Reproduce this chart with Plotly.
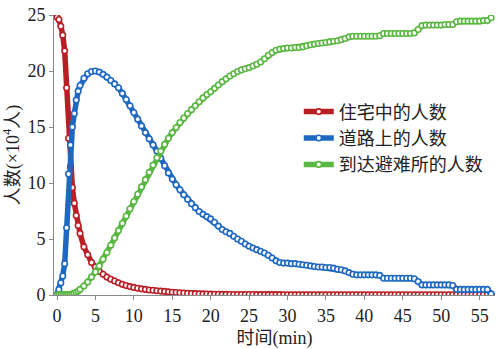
import plotly.graph_objects as go

time_min = [0, 0.25, 0.5, 0.75, 1.0, 1.25, 1.5, 1.75, 2.0, 2.25, 2.5, 2.75, 3.0,
            3.5, 4.0, 4.5, 5.0, 5.5, 6.0, 6.5, 7.0, 7.5, 8.0, 8.5, 9.0, 9.5,
            10.0, 10.5, 11.0, 11.5, 12.0, 12.5, 13.0, 13.5, 14.0, 14.5, 15.0, 15.5,
            16.0, 16.5, 17.0, 17.5, 18.0, 18.5, 19.0, 19.5, 20.0, 20.5, 21.0, 21.5,
            22.0, 22.5, 23.0, 23.5, 24.0, 24.5, 25.0, 25.5, 26.0, 26.5, 27.0, 27.5,
            28.0, 28.5, 29.0, 29.5, 30.0, 30.5, 31.0, 31.5, 32.0, 32.5, 33.0, 33.5,
            34.0, 34.5, 35.0, 35.5, 36.0, 36.5, 37.0, 37.5, 38.0, 38.5, 39.0, 39.5,
            40.0, 40.5, 41.0, 41.5, 42.0, 42.5, 43.0, 43.5, 44.0, 44.5, 45.0, 45.5,
            46.0, 46.5, 47.0, 47.5, 48.0, 48.5, 49.0, 49.5, 50.0, 50.5, 51.0, 51.5,
            52.0, 52.5, 53.0, 53.5, 54.0, 54.5, 55.0, 55.5, 56.0, 56.5]

in_homes = [24.8, 24.6, 24.0, 23.2, 21.8, 18.5, 14.0, 11.5, 9.6, 8.2, 7.1, 6.2, 5.5,
            4.3, 3.6, 2.9, 2.5, 2.1, 1.85, 1.6, 1.4, 1.25, 1.1, 0.95, 0.85, 0.75,
            0.68, 0.6, 0.55, 0.5, 0.45, 0.42, 0.38, 0.35, 0.32, 0.28, 0.25, 0.22,
            0.2, 0.18, 0.16, 0.14, 0.12, 0.11, 0.1, 0.09, 0.08, 0.07, 0.07, 0.06,
            0.06, 0.05, 0.05, 0.05, 0.04, 0.04, 0.04, 0.04, 0.03, 0.03, 0.03, 0.03,
            0.03, 0.03, 0.03, 0.02, 0.02, 0.02, 0.02, 0.02, 0.02, 0.02, 0.02, 0.02,
            0.02, 0.02, 0.02, 0.02, 0.02, 0.02, 0.02, 0.02, 0.02, 0.02, 0.02, 0.02,
            0.02, 0.02, 0.02, 0.02, 0.02, 0.02, 0.02, 0.02, 0.02, 0.02, 0.02, 0.02,
            0.02, 0.02, 0.02, 0.02, 0.02, 0.02, 0.02, 0.02, 0.02, 0.02, 0.02, 0.02,
            0.02, 0.02, 0.02, 0.02, 0.02, 0.02, 0.02, 0.02, 0.02, 0.02]

on_roads = [0.05, 0.5, 1.1, 1.7, 2.8, 6.0, 10.8, 13.4, 15.0, 16.2, 17.4, 18.2, 18.7,
            19.35, 19.75, 19.95, 20.0, 19.9, 19.7, 19.45, 19.15, 18.85, 18.5, 18.0, 17.45, 16.9,
            16.3, 15.7, 15.1, 14.5, 13.95, 13.4, 12.85, 12.2, 11.55, 10.9, 10.35, 9.85,
            9.4, 8.95, 8.55, 8.15, 7.8, 7.45, 7.2, 7.0, 6.8, 6.5, 6.15, 5.85,
            5.65, 5.5, 5.25, 5.0, 4.8, 4.55, 4.35, 4.2, 4.05, 3.9, 3.75, 3.55,
            3.3, 3.05, 2.9, 2.85, 2.85, 2.8, 2.8, 2.75, 2.7, 2.65, 2.6, 2.55,
            2.5, 2.5, 2.45, 2.45, 2.4, 2.3, 2.25, 2.15, 2.0, 1.85, 1.8, 1.8,
            1.8, 1.8, 1.8, 1.8, 1.75, 1.5, 1.5, 1.5, 1.5, 1.5, 1.5, 1.5,
            1.5, 1.45, 1.2, 0.9, 0.9, 0.9, 0.9, 0.9, 0.9, 0.9, 0.9, 0.85,
            0.5, 0.5, 0.5, 0.5, 0.5, 0.5, 0.5, 0.5, 0.5, 0.1]

in_shelters = [0.0, 0.05, 0.05, 0.05, 0.05, 0.05, 0.05, 0.05, 0.1, 0.15, 0.25, 0.35, 0.5,
               0.8, 1.15, 1.6, 2.05, 2.6, 3.2, 3.8, 4.45, 5.1, 5.75, 6.4, 7.05, 7.7,
               8.35, 9.0, 9.65, 10.3, 10.95, 11.6, 12.25, 12.85, 13.45, 14.0, 14.5, 14.95,
               15.4, 15.8, 16.2, 16.55, 16.9, 17.25, 17.6, 17.9, 18.15, 18.45, 18.75, 19.05,
               19.3, 19.55, 19.75, 19.95, 20.1, 20.2, 20.3, 20.45, 20.6, 20.8, 21.1, 21.4,
               21.65, 21.85, 21.95, 22.0, 22.05, 22.05, 22.1, 22.1, 22.15, 22.25, 22.35, 22.4,
               22.45, 22.5, 22.55, 22.6, 22.65, 22.7, 22.8, 22.9, 23.05, 23.1, 23.1, 23.1,
               23.1, 23.1, 23.1, 23.1, 23.15, 23.35, 23.35, 23.35, 23.35, 23.35, 23.35, 23.35,
               23.35, 23.4, 23.7, 24.05, 24.1, 24.1, 24.1, 24.1, 24.1, 24.15, 24.15, 24.15,
               24.4, 24.45, 24.45, 24.45, 24.45, 24.45, 24.45, 24.5, 24.5, 24.75]

series_names = ["住宅中的人数", "道路上的人数", "到达避难所的人数"]
series_colors = ["#B81F25", "#1E68C0", "#5AB742"]
x_ticks = [0, 5, 10, 15, 20, 25, 30, 35, 40, 45, 50, 55]
y_ticks = [0, 5, 10, 15, 20, 25]

fig = go.Figure()
for name, vals, col in zip(series_names, [in_homes, on_roads, in_shelters], series_colors):
    fig.add_trace(go.Scatter(
        x=time_min, y=vals, name=name, mode="lines+markers",
        line=dict(color=col, width=5.5),
        marker=dict(size=5.5, color="white", line=dict(color=col, width=1.6)),
        hoverinfo="skip",
    ))

serif = "Liberation Serif, Noto Sans CJK SC"
fig.update_layout(
    width=500, height=349,
    margin=dict(l=54, r=5, t=13, b=53),
    paper_bgcolor="white", plot_bgcolor="white",
    showlegend=True,
    legend=dict(x=0.555, y=0.72, xanchor="left", yanchor="top",
                font=dict(family="Noto Sans CJK SC", size=18, color="#222"),
                bgcolor="rgba(0,0,0,0)", itemwidth=30),
    xaxis=dict(range=[-0.39, 57.0], tickvals=x_ticks, showgrid=False, zeroline=False,
               showline=True, linecolor="#8a8a8a", linewidth=1,
               ticks="outside", ticklen=4, tickcolor="#8a8a8a",
               tickfont=dict(family=serif, size=18, color="#222"),
               title=dict(text="时间(min)", font=dict(family=serif, size=18, color="#222"),
                          standoff=6)),
    yaxis=dict(range=[0, 25], tickvals=y_ticks, showgrid=False, zeroline=False,
               showline=True, linecolor="#8a8a8a", linewidth=1,
               ticks="outside", ticklen=4, tickcolor="#8a8a8a",
               tickfont=dict(family=serif, size=18, color="#222"),
               title=dict(text="人数(×10<sup>4</sup>人)", font=dict(family=serif, size=18, color="#222"),
                          standoff=6)),
)
fig.write_html("out.html")
